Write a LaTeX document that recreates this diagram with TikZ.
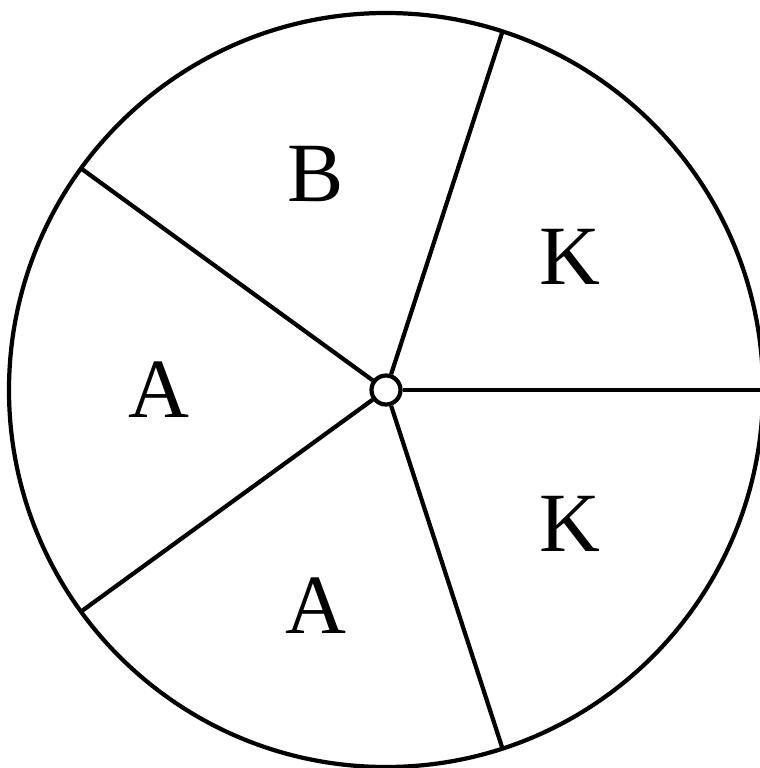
\documentclass[tikz,border=0pt]{standalone}
\usepackage{fontspec}
\setmainfont{Liberation Serif}
\usepackage{tikz}

\begin{document}
\begin{tikzpicture}[line width=1.2pt, every node/.style={font=\fontsize{24}{29}\selectfont}]
    \useasboundingbox (-3.86,-3.78) rectangle (3.73,3.90);
    \draw (0,0) circle (3.77);
    \coordinate (p1) at (0:3.77);
    \coordinate (p2) at (72:3.77);
    \coordinate (p3) at (144:3.77);
    \coordinate (p4) at (216:3.77);
    \coordinate (p5) at (288:3.77);
    \node[circle, draw, fill=white, minimum size=0.29cm, inner sep=0pt] (o) at (0,0) {};
    \draw (o) -- (p1);
    \draw (o) -- (p2);
    \draw (o) -- (p3);
    \draw (o) -- (p4);
    \draw (o) -- (p5);
    \node (b) at (108:2.27) {B};
    \node (k1) at (36:2.27) {K};
    \node (a1) at (180:2.27) {A};
    \node (a2) at (252:2.27) {A};
    \node (k2) at (324:2.27) {K};
\end{tikzpicture}
\end{document}
